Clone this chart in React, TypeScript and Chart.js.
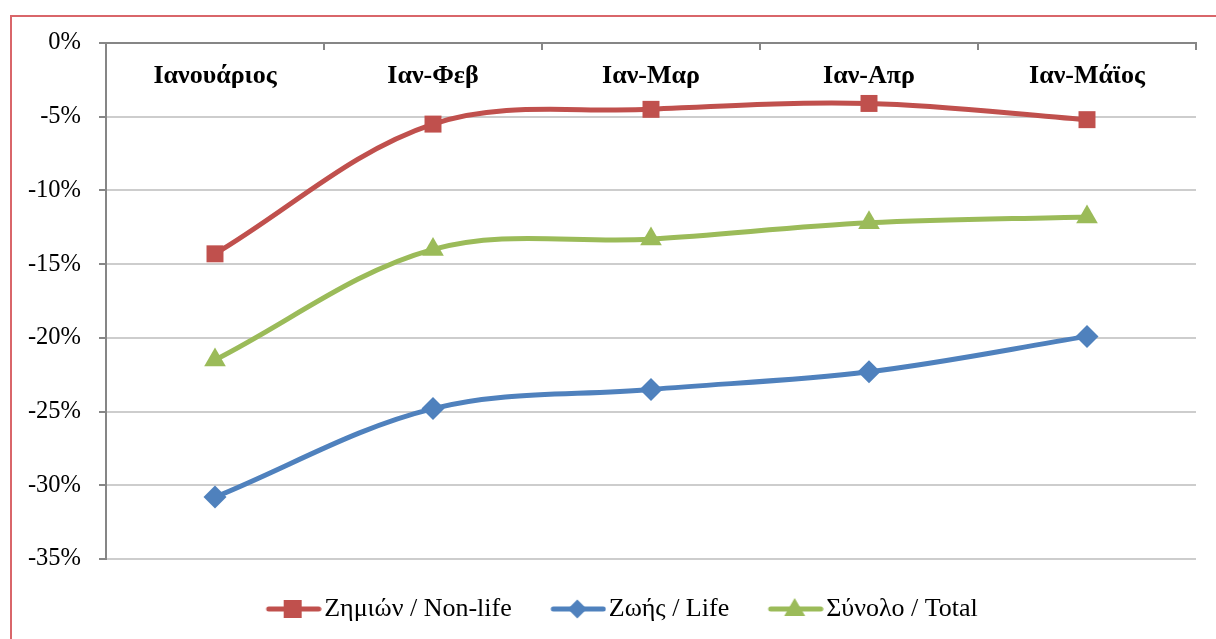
import React, { useEffect, useRef } from "react";
import { Chart, registerables } from "chart.js";

Chart.register(...registerables);

const categories = ["Ιανουάριος", "Ιαν-Φεβ", "Ιαν-Μαρ", "Ιαν-Απρ", "Ιαν-Μάϊος"];
const nonLife = [-14.3, -5.5, -4.5, -4.1, -5.2];
const life = [-30.8, -24.8, -23.5, -22.3, -19.9];
const total = [-21.5, -14.0, -13.3, -12.2, -11.8];
const seriesLabels = ["Ζημιών / Non-life", "Ζωής / Life", "Σύνολο / Total"];
const seriesColors = ["#C0504D", "#4F81BD", "#9BBB59"];
const yMin = -35;
const yMax = 0;
const yStep = 5;

type Marker = "rect" | "rectRot" | "triangle";
const markers: Marker[] = ["rect", "rectRot", "triangle"];
const markerRadius = [12, 11.5, 12.5];

const FONT = '"Liberation Serif", "Times New Roman", serif';

function makeIcon(color: string, marker: Marker): HTMLCanvasElement {
  const c = document.createElement("canvas");
  c.width = 68;
  c.height = 26;
  const ctx = c.getContext("2d")!;
  ctx.strokeStyle = color;
  ctx.fillStyle = color;
  ctx.lineWidth = 5;
  ctx.lineCap = "round";
  ctx.beginPath();
  ctx.moveTo(15, 13);
  ctx.lineTo(65, 13);
  ctx.stroke();
  const cx = 39;
  const cy = 13;
  ctx.beginPath();
  if (marker === "rect") {
    ctx.rect(cx - 9, cy - 9, 18, 18);
  } else if (marker === "rectRot") {
    ctx.moveTo(cx - 9.5, cy);
    ctx.lineTo(cx, cy - 9.5);
    ctx.lineTo(cx + 9.5, cy);
    ctx.lineTo(cx, cy + 9.5);
    ctx.closePath();
  } else {
    ctx.moveTo(cx, cy - 11);
    ctx.lineTo(cx + 10.5, cy + 7);
    ctx.lineTo(cx - 10.5, cy + 7);
    ctx.closePath();
  }
  ctx.fill();
  return c;
}

const categoryLabelPlugin = {
  id: "categoryLabels",
  afterDraw(chart: any) {
    const xs = chart.scales.x;
    const { ctx, chartArea } = chart;
    ctx.save();
    ctx.font = `bold 26px ${FONT}`;
    ctx.fillStyle = "#000";
    ctx.textAlign = "center";
    ctx.textBaseline = "alphabetic";
    categories.forEach((c, i) => {
      ctx.fillText(c, xs.getPixelForValue(i), chartArea.top + 40);
    });
    ctx.restore();
  },
};

const legendShiftPlugin = {
  id: "legendShift",
  afterLayout(chart: any) {
    const lg = chart.legend;
    if (lg) {
      lg.left = 46;
    }
  },
};

export default function App() {
  const canvasRef = useRef<HTMLCanvasElement | null>(null);

  useEffect(() => {
    if (!canvasRef.current) return;
    Chart.defaults.font.family = FONT;
    const icons = seriesColors.map((c, i) => makeIcon(c, markers[i]));
    const seriesData = [nonLife, life, total];

    const chart = new Chart(canvasRef.current, {
      type: "line",
      data: {
        labels: categories,
        datasets: seriesData.map((d, i) => ({
          label: seriesLabels[i],
          data: d,
          borderColor: seriesColors[i],
          backgroundColor: seriesColors[i],
          borderWidth: 5,
          pointStyle: markers[i],
          pointRadius: markerRadius[i],
          pointBackgroundColor: seriesColors[i],
          pointBorderColor: seriesColors[i],
          pointBorderWidth: 0,
          tension: 0.35,
          fill: false,
        })),
      },
      options: {
        animation: false,
        responsive: true,
        maintainAspectRatio: false,
        events: [],
        layout: { padding: { left: 0, right: 20, top: 43, bottom: 7 } },
        scales: {
          x: {
            type: "category",
            position: "top",
            offset: true,
            grid: {
              offset: true,
              drawOnChartArea: false,
              drawTicks: true,
              tickLength: -7,
              color: "#868686",
              lineWidth: 2,
            },
            border: { display: true, color: "#868686", width: 2 },
            ticks: { display: false },
            afterFit: (s: any) => {
              s.height = 0;
            },
          },
          y: {
            min: yMin,
            max: yMax,
            position: "left",
            grid: {
              color: "#CDCDCD",
              lineWidth: 2,
              tickLength: 7,
              tickColor: "#868686",
            },
            border: { display: true, color: "#868686", width: 2 },
            ticks: {
              stepSize: yStep,
              padding: 18,
              color: "#000",
              font: { size: 24.5 },
              callback: (v: any) => `${v}%`,
            },
            afterFit: (s: any) => {
              s.width = 106;
            },
          },
        },
        plugins: {
          title: { display: false },
          tooltip: { enabled: false },
          legend: {
            display: true,
            position: "bottom",
            labels: {
              usePointStyle: true,
              pointStyleWidth: 47,
              padding: 37,
              color: "#000",
              font: { size: 26 },
              generateLabels: (ch: any) => {
                const items = (Chart.defaults.plugins.legend.labels as any).generateLabels(ch);
                return items.map((it: any, i: number) => ({
                  ...it,
                  pointStyle: icons[i],
                  rotation: 0,
                }));
              },
            },
          },
        },
      } as any,
      plugins: [categoryLabelPlugin, legendShiftPlugin],
    });
    return () => chart.destroy();
  }, []);

  return (
    <div
      style={{
        position: "fixed",
        left: 0,
        top: 0,
        width: 1216,
        height: 639,
        overflow: "hidden",
        background: "#fff",
      }}
    >
      <div
        style={{
          position: "absolute",
          left: 10,
          top: 15,
          width: 1300,
          height: 800,
          border: "2px solid #D9666A",
          boxSizing: "border-box",
        }}
      />
      <div style={{ position: "absolute", left: 0, top: 0, width: 1216, height: 639 }}>
        <canvas ref={canvasRef} />
      </div>
    </div>
  );
}
